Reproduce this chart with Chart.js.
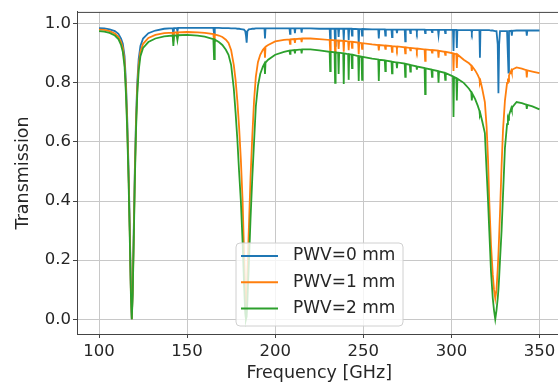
<!DOCTYPE html>
<html>
<head>
<meta charset="utf-8">
<script src="https://cdn.jsdelivr.net/npm/chart.js@4.4.1/dist/chart.umd.min.js"></script>
<style>
  html, body { margin: 0; padding: 0; background: #fff; overflow: hidden; }
  #wrap { width: 558px; height: 384px; overflow: hidden; }
</style>
</head>
<body>
<div id="wrap"><canvas id="chart" width="570" height="384"></canvas></div>
<script>
// frequency grid [GHz]
const freq = [
  100,103,106,109,111,112.5,113.5,114.5,115.3,116,116.8,117.5,118.1,118.6,
  119.1,119.7,120.3,121,121.7,122.5,123.5,125,128,132,137,141.8,142.2,142.6,144.1,144.5,144.9,
  150,156,160,164.9,165.3,165.7,168,170,172,173.5,175,176.5,177.5,178.5,179.5,180.5,181.5,182.3,
  183,183.4,183.8,184.2,185,186,187,188,189,190.2,191.5,193,193.9,194.2,194.5,196,200,
  205,208.1,208.4,208.7,210.9,211.2,211.5,214.7,215,215.3,220,225,230.9,231.2,231.5,233.7,234,234.3,235.7,236,236.3,238.6,238.9,239.2,241.4,241.7,242,243.3,243.6,243.9,
  247.1,247.4,247.7,249,249.3,249.6,255,258.5,258.8,259.1,262.2,262.5,262.8,266,266.3,266.6,268.8,269.1,269.4,273.5,273.8,274.1,276.4,276.7,277,280.1,280.4,280.7,
  284.8,285.1,285.4,288.7,289,289.3,292.4,292.7,293,296.2,296.5,296.8,300.9,301.2,301.5,302.8,303.1,303.4,
  307,310,311.3,311.6,311.9,313.5,315,315.9,316.2,316.5,317.5,319,320,320.8,321.5,322.5,323.5,324.2,324.9,
  325.6,326.3,326.7,327.1,327.6,328.5,329.3,330.4,331.6,332.1,332.4,332.7,334,334.3,334.6,337,340,342.5,342.8,343.1,346,350
];

// transmission, PWV = 0 mm
const pwv0 = [
  .985,.984,.981,.975,.966,.950,.932,.890,.800,.680,.500,.300,.100,.000,
  .100,.300,.500,.680,.800,.880,.925,.950,.968,.977,.983,.985,.960,.985,.985,.975,.986,
  .986,.986,.986,.986,.965,.986,.986,.985,.985,.985,.984,.984,.984,.983,.983,.982,.981,.980,
  .975,.960,.936,.975,.981,.982,.983,.983,.984,.984,.984,.984,.984,.950,.984,.984,.984,
  .984,.984,.966,.984,.984,.968,.984,.984,.970,.984,.984,.983,.983,.947,.983,.983,.925,.983,.983,.955,.983,.983,.945,.983,.983,.945,.983,.983,.960,.983,
  .982,.930,.982,.982,.960,.982,.981,.981,.950,.981,.981,.960,.981,.980,.955,.980,.980,.968,.980,.980,.940,.980,.980,.968,.980,.980,.972,.980,
  .980,.968,.980,.979,.972,.979,.979,.962,.979,.979,.968,.979,.979,.908,.979,.979,.918,.979,
  .978,.978,.978,.970,.978,.978,.978,.978,.885,.978,.978,.978,.978,.978,.978,.977,.977,.976,.975,
  .975,.930,.765,.930,.975,.975,.975,.975,.975,.975,.835,.975,.976,.960,.976,.977,.977,.977,.960,.977,.977,.977
];

// transmission, PWV = 1 mm
const pwv1 = [
  .980,.979,.975,.967,.956,.938,.918,.872,.780,.660,.480,.280,.090,.000,
  .090,.280,.480,.660,.780,.860,.905,.932,.952,.962,.968,.970,.940,.970,.971,.955,.971,
  .972,.971,.969,.965,.940,.964,.960,.955,.946,.935,.910,.860,.810,.740,.650,.540,.400,.230,
  .080,.030,.060,.150,.300,.480,.620,.740,.820,.870,.895,.912,.918,.885,.922,.928,.940,
  .945,.947,.932,.947,.948,.935,.948,.950,.938,.950,.950,.948,.945,.908,.945,.944,.900,.944,.943,.915,.943,.942,.905,.942,.940,.910,.940,.939,.918,.939,
  .936,.897,.936,.934,.915,.934,.930,.928,.910,.928,.926,.915,.926,.924,.905,.924,.923,.915,.923,.920,.900,.920,.918,.910,.918,.916,.908,.916,
  .913,.874,.913,.911,.902,.911,.909,.885,.908,.905,.895,.905,.900,.840,.899,.897,.850,.896,
  .878,.866,.858,.840,.855,.842,.826,.814,.800,.806,.780,.735,.650,.540,.400,.250,.150,.100,.070,
  .100,.170,.220,.280,.360,.520,.640,.740,.800,.815,.805,.825,.842,.835,.845,.852,.848,.843,.818,.842,.838,.833
];

// transmission, PWV = 2 mm
const pwv2 = [
  .975,.973,.969,.960,.948,.928,.905,.855,.760,.640,.460,.260,.080,.000,
  .080,.260,.460,.640,.760,.840,.890,.918,.938,.950,.957,.960,.925,.960,.961,.945,.961,
  .962,.960,.956,.948,.880,.946,.938,.928,.912,.895,.860,.780,.700,.610,.500,.400,.260,.120,
  .020,.000,.010,.060,.180,.340,.480,.600,.720,.790,.830,.855,.865,.830,.868,.878,.895,
  .905,.909,.898,.909,.911,.900,.911,.913,.900,.913,.913,.910,.905,.840,.905,.903,.800,.903,.902,.830,.902,.900,.796,.900,.897,.810,.897,.895,.850,.895,
  .890,.806,.890,.888,.810,.888,.882,.879,.806,.878,.876,.840,.875,.872,.832,.871,.869,.850,.869,.865,.820,.864,.861,.838,.860,.856,.845,.855,
  .850,.762,.849,.845,.820,.844,.840,.800,.839,.834,.810,.833,.822,.684,.820,.816,.740,.814,
  .800,.780,.768,.740,.763,.745,.722,.706,.690,.695,.670,.630,.500,.400,.300,.160,.070,.030,.000,
  .030,.070,.100,.140,.200,.300,.420,.580,.660,.680,.675,.690,.715,.708,.718,.735,.731,.726,.712,.725,.720,.710
];

const seriesLabels = ['PWV=0 mm', 'PWV=1 mm', 'PWV=2 mm'];
const seriesColors = ['#1f77b4', '#ff7f0e', '#2ca02c'];
const xTicks = [100, 150, 200, 250, 300, 350];
const yTicks = [0.0, 0.2, 0.4, 0.6, 0.8, 1.0];

function toPoints(vals) {
  return freq.map((f, i) => ({ x: f, y: vals[i] }));
}

// matplotlib-like legend box inside the axes + frame on top/right
const boxLegend = {
  id: 'boxLegend',
  afterDraw(chart) {
    const ctx = chart.ctx;
    const a = chart.chartArea;
    ctx.save();
    ctx.strokeStyle = '#444';
    ctx.lineWidth = 1;
    ctx.strokeRect(a.left + 0.5, a.top + 0.5, a.right - a.left, a.bottom - a.top);

    const x0 = 236, y0 = 243, w = 167, h = 83, r = 4;
    ctx.beginPath();
    ctx.moveTo(x0 + r, y0);
    ctx.arcTo(x0 + w, y0, x0 + w, y0 + h, r);
    ctx.arcTo(x0 + w, y0 + h, x0, y0 + h, r);
    ctx.arcTo(x0, y0 + h, x0, y0, r);
    ctx.arcTo(x0, y0, x0 + w, y0, r);
    ctx.closePath();
    ctx.fillStyle = 'rgba(255,255,255,0.8)';
    ctx.fill();
    ctx.strokeStyle = '#d0d0d0';
    ctx.stroke();

    ctx.font = '17px "DejaVu Sans"';
    ctx.textBaseline = 'middle';
    ctx.textAlign = 'left';
    chart.data.datasets.forEach((ds, i) => {
      const yy = 256 + i * 26.3;
      ctx.strokeStyle = ds.borderColor;
      ctx.lineWidth = 2;
      ctx.beginPath();
      ctx.moveTo(241, yy);
      ctx.lineTo(278, yy);
      ctx.stroke();
      ctx.fillStyle = '#262626';
      ctx.fillText(ds.label, 293, yy);
    });
    ctx.restore();
  }
};

const ctx = document.getElementById('chart').getContext('2d');
new Chart(ctx, {
  type: 'line',
  data: {
    datasets: seriesLabels.map((lab, i) => ({
      label: lab,
      data: toPoints([pwv0, pwv1, pwv2][i]),
      borderColor: seriesColors[i],
      backgroundColor: seriesColors[i],
      borderWidth: 1.8,
      pointRadius: 0,
      tension: 0,
      order: 2 - i
    }))
  },
  options: {
    responsive: false,
    animation: false,
    devicePixelRatio: 1,
    layout: { padding: { top: 9, right: 8.5, left: 0, bottom: 0 } },
    plugins: {
      legend: { display: false },
      tooltip: { enabled: false }
    },
    scales: {
      x: {
        type: 'linear',
        min: 87.5,
        max: 362.5,
        afterBuildTicks: (s) => { s.ticks = xTicks.map(v => ({ value: v })); },
        afterFit: (s) => { s.height = 50; },
        ticks: {
          font: { family: 'DejaVu Sans', size: 16.5 },
          color: '#262626',
          padding: 4,
          maxRotation: 0,
          callback: (v) => String(v)
        },
        grid: { color: '#c8c8c8', lineWidth: 1, tickLength: 4, tickColor: '#444' },
        border: { color: '#444', width: 1 },
        title: {
          display: true,
          text: 'Frequency [GHz]',
          font: { family: 'DejaVu Sans', size: 17.5 },
          color: '#262626',
          padding: { top: 0, bottom: 0 }
        }
      },
      y: {
        min: -0.05,
        max: 1.04,
        afterBuildTicks: (s) => { s.ticks = yTicks.map(v => ({ value: v })); },
        afterFit: (s) => { s.width = 77; },
        ticks: {
          font: { family: 'DejaVu Sans', size: 16.5 },
          color: '#262626',
          padding: 2,
          callback: (v) => v.toFixed(1)
        },
        grid: { color: '#c8c8c8', lineWidth: 1, tickLength: 4, tickColor: '#444' },
        border: { color: '#444', width: 1 },
        title: {
          display: true,
          text: 'Transmission',
          font: { family: 'DejaVu Sans', size: 17.5 },
          color: '#262626',
          padding: { top: 13, bottom: 0 }
        }
      }
    }
  },
  plugins: [boxLegend]
});
</script>
</body>
</html>
